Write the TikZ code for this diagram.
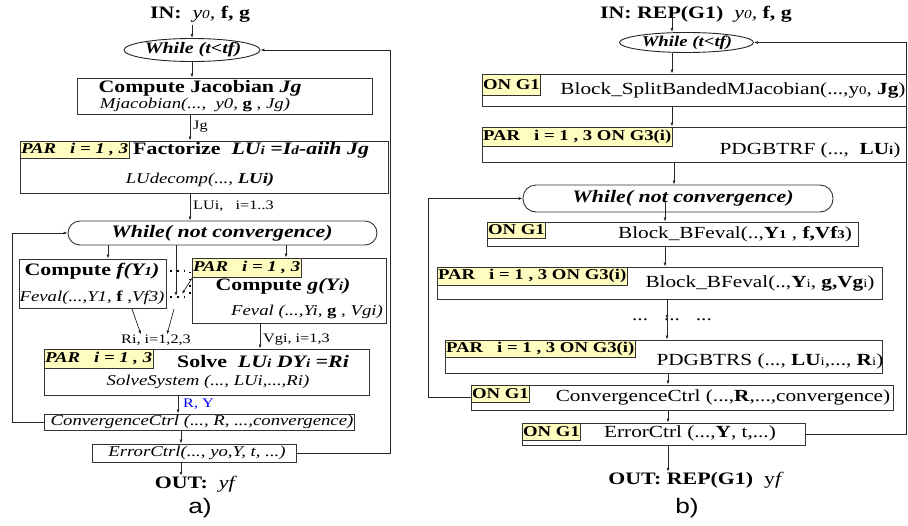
\documentclass[tikz,border=0pt]{standalone}
\usepackage{fontspec}
\setmainfont[FakeStretch=1.25]{Liberation Serif}
\newfontfamily\sansf[FakeStretch=1.25]{Liberation Sans}
\usetikzlibrary{arrows.meta,shapes.geometric,calc}
\makeatletter
\newcommand\lo[1]{{\fontsize{\the\dimexpr 7\dimexpr\f@size pt\relax/10\relax}{0pt}\selectfont #1}}
\makeatother
\tikzset{
  box/.style={draw=black!80, line width=0.9pt, inner sep=0pt, fill=white},
  ptag/.style={draw=black!80, line width=0.9pt, fill=yellow!25, inner xsep=1pt, inner ysep=0pt, anchor=north west},
  tagi/.style={ptag, font=\fontsize{15}{15}\selectfont\bfseries\itshape},
  tagr/.style={ptag, font=\fontsize{15}{15}\selectfont\bfseries},
  txt/.style={inner sep=0pt},
  big/.style={txt, font=\fontsize{17.5}{20}\selectfont\bfseries},
  sub/.style={txt, font=\fontsize{15}{18}\selectfont\itshape},
  rtx/.style={txt, font=\fontsize{17}{20}\selectfont},
  lab/.style={txt, font=\fontsize{13}{15}\selectfont, anchor=west},
  oval/.style={ellipse, draw=black!85, line width=0.9pt, inner sep=0pt},
  ovt/.style={txt, font=\fontsize{16}{20}\selectfont\bfseries\itshape},
  arr/.style={draw=black!85, line width=0.7pt, -{Latex[length=4pt,width=3pt]}},
  dotl/.style={draw=black, line width=1.3pt, dash pattern=on 1.3pt off 5.5pt},
}
\begin{document}
\begin{tikzpicture}[x=1pt,y=-1pt]
\useasboundingbox (0,0) rectangle (908,525);
% ================= LEFT (a) =================
\node[big] (in1) at (200,14) {IN:\ \ \textit{\mdseries y\lo{0},} f, g};
\node[oval, minimum width=136pt, minimum height=23pt] (w1) at (192,50) {};
\node[ovt] (w1t) at (193,50) {While (t<tf)};
\node[box, minimum width=295pt, minimum height=36pt] (jac) at (224.5,96) {};
\node[big] (jact) at (200,88) {Compute Jacobian \textit{Jg}};
\node[sub] (jacs) at (195,105) {Mjacobian(...,\ \ y0, \textbf{\upshape g} , Jg)};
\node[box, minimum width=368pt, minimum height=52pt] (fac) at (204,167) {};
\node[tagi, minimum height=17pt] (fact) at (fac.north west) {PAR\ \ \ i = 1 , 3};
\node[big, anchor=west] (facx) at (133,150) {Factorize\ \ \textit{LU\lo{i} =I\lo{d}-aiih Jg}};
\node[sub] (facs) at (200,180) {LUdecomp(..., \textbf{LUi)}};
\node[box, rounded corners=12pt, minimum width=309pt, minimum height=24pt] (wnc) at (222.5,233) {};
\node[txt, font=\fontsize{17.5}{20}\selectfont\bfseries\itshape] (wnct) at (222,233) {While( not convergence)};
\node[box, minimum width=147pt, minimum height=49pt] (fb) at (92.5,283.5) {};
\node[big] (fbt) at (92,271) {Compute \textit{f(Y\lo{1})}};
\node[sub] (fbs) at (92,298) {Feval(...,Y1, \textbf{\upshape f} ,Vf3)};
\node[box, minimum width=194pt, minimum height=65pt] (gb) at (289,290.5) {};
\node[tagi, minimum height=19pt] (gbt0) at (gb.north west) {PAR\ \ \ i = 1 , 3};
\node[big] (gbt) at (283,286) {Compute \textit{g(Y\lo{i})}};
\node[sub] (gbs) at (307,312) {Feval (...,Yi, \textbf{\upshape g} , Vgi)};
\node[box, minimum width=325pt, minimum height=46pt] (sv) at (206.5,372) {};
\node[tagi, minimum height=19pt] (svt0) at (sv.north west) {PAR\ \ \ i = 1 , 3};
\node[big, anchor=west] (svt) at (177,362) {Solve\ \ \textit{LU\lo{i} DY\lo{i} =Ri}};
\node[sub] (svs) at (208,382) {SolveSystem (..., LUi,...,Ri)};
\node[box, minimum width=310pt, minimum height=16pt] (cv) at (199,422) {};
\node[sub] (cvt) at (202,422) {ConvergenceCtrl (..., R, ...,convergence)};
\node[box, minimum width=204pt, minimum height=18pt] (er) at (194,453) {};
\node[sub] (ert) at (197,453) {ErrorCtrl(..., yo,Y, t, ...)};
\node[big] (out1) at (196,484) {OUT:\ \ \textit{\mdseries yf}};
\node[txt, font=\fontsize{21}{24}\selectfont\sansf] (la) at (200,508) {a)};
% labels
\node[lab] (ljg) at (193,127) {Jg};
\node[lab] (llu) at (193,206) {LUi,\ \ \ i=1..3};
\node[txt, font=\fontsize{13}{15}\selectfont] (lri) at (156,340) {Ri, i=1,2,3};
\node[lab] (lvg) at (263,340) {Vgi, i=1,3};
\node[lab, text=blue] (lry) at (183,404) {R, Y};
% connectors left
\coordinate (xa) at (192,0);
\coordinate (xb) at (190,0);
\coordinate (xc) at (108,0);
\coordinate (xd) at (176,0);
\coordinate (xe) at (286,0);
\coordinate (xf) at (260,0);
\coordinate (xg) at (178,0);
\coordinate (xh) at (181,0);
\coordinate (rx) at (390,0);
\coordinate (lx) at (12,0);
\draw[arr] (xa |- in1.south) ++(0,3) -- (xa |- w1.north);
\draw[arr] (xa |- w1.south) -- (xa |- jac.north);
\draw[arr] (xb |- jac.south) -- (xb |- fac.north);
\draw[arr] (xb |- fac.south) -- (xb |- wnc.north);
\draw[arr] (xc |- wnc.south) -- (xc |- fb.north);
\draw[arr] (xe |- wnc.south) -- (xe |- gb.north);
\draw[arr] (xd |- wnc.south) -- (176,296);
\coordinate (d1) at (fb.east |- 0,271);
\coordinate (d2) at (190,271);
\coordinate (d3) at (fb.east |- 0,297);
\coordinate (d4) at (190,297);
\draw[dotl] (d1) ++(4,0) -- (d2) -- (d4);
\draw[dotl] (d3) ++(4,0) -- (d4);
\draw[arr] (gbt0.south west) ++(1,0) -- (182,294);
\coordinate (r1) at (132,309);
\coordinate (r2) at (174,309);
\draw[arr] (r1) -- (lri.north -| 141,0);
\draw[arr] (r2) -- (lri.north -| 167,0);
\draw[arr] (xf |- gb.south) -- (xf |- sv.north);
\draw[arr] (xg |- sv.south) -- (xg |- cv.north);
\draw[arr] (xh |- cv.south) -- (xh |- er.north);
\draw[arr] (xh |- er.south) -- (xh |- out1.north);
\draw[arr] (er.east) -- (er.east -| rx) -- (rx |- w1.east) -- (w1.east);
\draw[arr] (cv.west) -- (cv.west -| lx) -- (lx |- wnc.west) -- (wnc.west);
% ================= RIGHT (b) =================
\node[big] (in2) at (696,14) {IN: REP(G1)\ \ \textit{\mdseries y\lo{0},} f, g};
\node[oval, minimum width=134pt, minimum height=20pt] (w2) at (686.5,42.5) {};
\node[ovt, font=\fontsize{15}{20}\selectfont\bfseries\itshape] (w2t) at (687,42.5) {While (t<tf)};
\node[box, minimum width=424pt, minimum height=32pt] (bsj) at (694,90) {};
\node[tagr, minimum height=21pt] (bsjt) at (bsj.north west) {ON G1};
\node[rtx] (bsjx) at (733,90) {Block\_SplitBandedMJacobian(...,y\lo{0}, \textbf{Jg})};
\node[box, minimum width=424pt, minimum height=35pt] (pdf) at (694,144.5) {};
\node[tagr, minimum height=19pt] (pdft) at (pdf.north west) {PAR\ \ \ i = 1 , 3 ON G3(i)};
\node[rtx] (pdfx) at (810,150) {PDGBTRF (...,\ \ \textbf{LU\lo{i}})};
\node[box, rounded corners=13pt, minimum width=310pt, minimum height=27pt] (wn2) at (678,198.5) {};
\node[txt, font=\fontsize{17.5}{20}\selectfont\bfseries\itshape] (wn2t) at (683,198) {While( not convergence)};
\node[box, minimum width=371pt, minimum height=24pt] (bf1) at (672.5,234) {};
\node[tagr, minimum height=16pt] (bf1t) at (bf1.north west) {ON G1};
\node[rtx] (bf1x) at (735,234) {Block\_BFeval(..,\textbf{Y\lo{1}} , \textbf{f,Vf\lo{3}})};
\node[box, minimum width=445pt, minimum height=32pt] (bfi) at (659.5,283) {};
\node[tagr, minimum height=18pt] (bfit) at (bfi.north west) {PAR\ \ \ i = 1 , 3 ON G3(i)};
\node[rtx] (bfix) at (760,283) {Block\_BFeval(..,\textbf{Y}\lo{i}, \textbf{g,Vg}\lo{i})};
\node[rtx] (dots) at (672,320) {...\ \ \ ...\ \ \ ...};
\node[box, minimum width=437pt, minimum height=33pt] (pds) at (663.5,356.5) {};
\node[tagr, minimum height=17pt] (pdst) at (pds.north west) {PAR\ \ \ i = 1 , 3 ON G3(i)};
\node[rtx] (pdsx) at (770,361) {PDGBTRS (..., \textbf{LU}\lo{i},..., \textbf{R}\lo{i})};
\node[box, minimum width=422pt, minimum height=25pt] (cv2) at (682,397.5) {};
\node[tagr, minimum height=17pt] (cv2t) at (cv2.north west) {ON G1};
\node[rtx] (cv2x) at (723,397) {ConvergenceCtrl (...,\textbf{R},...,convergence)};
\node[box, minimum width=283pt, minimum height=22pt] (er2) at (663.5,434) {};
\node[tagr, minimum height=17pt] (er2t) at (er2.north west) {ON G1};
\node[rtx] (er2x) at (690,433) {ErrorCtrl (...,\textbf{Y}, t,...)};
\node[big] (out2) at (696,480) {OUT: REP(G1)\ \ \mdseries y\textit{f}};
\node[txt, font=\fontsize{21}{24}\selectfont\sansf] (lb) at (687,508) {b)};
% connectors right
\coordinate (ya) at (672,0);
\coordinate (yb) at (674,0);
\coordinate (yc) at (665,0);
\coordinate (yd) at (667,0);
\coordinate (ye) at (668,0);
\coordinate (ry) at (906.5,0);
\coordinate (ly) at (428,0);
\draw[arr] (ya |- in2.south) ++(0,-6) -- (ya |- w2.north);
\draw[arr] (ya |- w2.south) -- (ya |- bsj.north);
\draw[arr] (ya |- bsj.south) -- (ya |- pdf.north);
\draw[arr] (yb |- pdf.south) -- (yb |- wn2.north);
\draw[arr] (yc |- wn2.center) ++(0,3) -- (yc |- bf1.north);
\draw[arr] (yc |- bf1.south) -- (yc |- bfi.north);
\draw[arr] (yd |- bfi.south) -- (yd |- dots.north);
\draw[arr] (yd |- dots.south) ++(0,-4) -- (yd |- pds.north);
\draw[arr] (ye |- pds.south) -- (ye |- cv2.north);
\draw[arr] (ye |- cv2.south) -- (ye |- er2.north);
\draw[arr] (ye |- er2.south) -- (ye |- out2.north);
\draw[arr] (er2.east) -- (er2.east -| ry) -- (ry |- w2.east) -- (w2.east);
\draw[arr] (cv2.west) -- (cv2.west -| ly) -- (ly |- wn2.west) -- (wn2.west);
\end{tikzpicture}
\end{document}
